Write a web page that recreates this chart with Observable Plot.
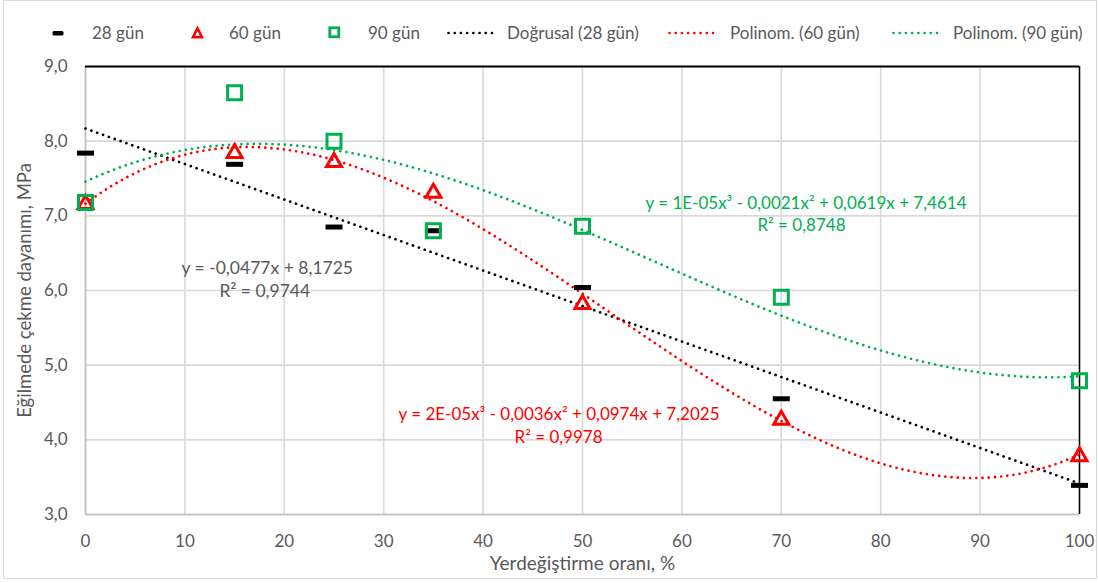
<!DOCTYPE html>
<html>
<head>
<meta charset="utf-8">
<script src="https://cdn.jsdelivr.net/npm/d3@7"></script>
<script src="https://cdn.jsdelivr.net/npm/@observablehq/plot@0.6"></script>
<style>
  body { margin: 0; background: #fff; font-family: Lato, "Open Sans", sans-serif; }
  #wrap { position: relative; width: 1098px; height: 583px; overflow: hidden; background: #fff; }
  #legend { position: relative; width: 1098px; height: 46px; }
  .lg-mark { position: absolute; top: 26px; height: 14px; display: flex; align-items: center; }
  .lg-text { position: absolute; top: 22px; height: 22px; line-height: 22px; font-size: 17px; color: #595959; white-space: nowrap; }
  #border { position: absolute; left: 3px; top: 0px; width: 1092px; height: 577px; border: 1.5px solid #d9d9d9; pointer-events: none; }
  svg { display: block; }
</style>
</head>
<body>
<div id="wrap">
  <div id="legend"></div>
  <div id="chart"></div>
  <div id="border"></div>
</div>
<script>
// ---------------- data ----------------
const xValues = [0, 15, 25, 35, 50, 70, 100];
const gun28 = [7.84, 7.69, 6.85, 6.80, 6.04, 4.55, 3.39];
const gun60 = [7.18, 7.86, 7.74, 7.33, 5.84, 4.29, 3.80];
const gun90 = [7.18, 8.65, 8.00, 6.80, 6.86, 5.91, 4.79];

const seriesNames = ["28 gün", "60 gün", "90 gün"];
const trendNames = ["Doğrusal (28 gün)", "Polinom. (60 gün)", "Polinom. (90 gün)"];
const colors = ["#000000", "#ff0000", "#00b050"];

const xTicks = [0, 10, 20, 30, 40, 50, 60, 70, 80, 90, 100];
const yTicks = [3, 4, 5, 6, 7, 8, 9];
const xDomain = [0, 100];
const yDomain = [3, 9];

const xTitle = "Yerdeğiştirme oranı, %";
const yTitle = "Eğilmede çekme dayanımı, MPa";

// trendline equation labels (anchored at start, in data units)
const eqLinear = [
  {x: 9.66, y: 6.30, text: "y = -0,0477x + 8,1725"},
  {x: 13.48, y: 5.99, text: "R² = 0,9744"}
];
const eq90 = [
  {x: 56.34, y: 7.17, text: "y = 1E-05x³ - 0,0021x² + 0,0619x + 7,4614"},
  {x: 67.6, y: 6.87, text: "R² = 0,8748"}
];
const eq60 = [
  {x: 31.49, y: 4.34, text: "y = 2E-05x³ - 0,0036x² + 0,0974x + 7,2025"},
  {x: 43.16, y: 4.03, text: "R² = 0,9978"}
];

// ---------------- least-squares trendlines ----------------
function polyfit(xs, ys, deg) {
  const s = 100; // scale x for conditioning
  const u = xs.map(v => v / s);
  const n = deg + 1;
  const A = Array.from({length: n}, (_, i) =>
    Array.from({length: n}, (_, j) => d3.sum(u, ui => ui ** (i + j))));
  const b = Array.from({length: n}, (_, i) => d3.sum(u.map((ui, k) => ui ** i * ys[k])));
  for (let c = 0; c < n; c++) {
    let p = c;
    for (let r = c + 1; r < n; r++) if (Math.abs(A[r][c]) > Math.abs(A[p][c])) p = r;
    [A[c], A[p]] = [A[p], A[c]]; [b[c], b[p]] = [b[p], b[c]];
    for (let r = c + 1; r < n; r++) {
      const f = A[r][c] / A[c][c];
      for (let k = c; k < n; k++) A[r][k] -= f * A[c][k];
      b[r] -= f * b[c];
    }
  }
  const coef = new Array(n).fill(0);
  for (let r = n - 1; r >= 0; r--) {
    let acc = b[r];
    for (let k = r + 1; k < n; k++) acc -= A[r][k] * coef[k];
    coef[r] = acc / A[r][r];
  }
  return x => coef.reduce((acc, c, i) => acc + c * (x / s) ** i, 0);
}

const fit28 = polyfit(xValues, gun28, 1);
const fit60 = polyfit(xValues, gun60, 3);
const fit90 = polyfit(xValues, gun90, 3);

const grid = d3.range(xDomain[0], xDomain[1] + 0.001, 0.5);
const curve = (f) => grid.map(x => ({x, y: f(x)}));
const pts = (ys) => xValues.map((x, i) => ({x, y: ys[i]}));

// ---------------- marker symbols ----------------
const dashSym = {draw(ctx) { ctx.rect(-8.5, -2.5, 17, 5); }};
const triSym = {draw(ctx) { ctx.moveTo(0, -7); ctx.lineTo(7.5, 6); ctx.lineTo(-7.5, 6); ctx.closePath(); }};
const sqSym = {draw(ctx) { ctx.rect(-7, -7, 14, 14); }};

const dotted = "0.01,6.2";
const dotStyle = {strokeWidth: 2.7, strokeDasharray: dotted, strokeLinecap: "round"};
const fmt = d => d.toFixed(1).replace(".", ",");

const chart = Plot.plot({
  width: 1098,
  height: 537,
  marginLeft: 85,
  marginRight: 19,
  marginTop: 20,
  marginBottom: 69,
  style: {fontFamily: "Lato, 'Open Sans', sans-serif", fontSize: "17px", color: "#595959", background: "transparent", overflow: "visible"},
  x: {domain: xDomain, axis: null},
  y: {domain: yDomain, axis: null},
  marks: [
    Plot.gridX(xTicks, {stroke: "#d9d9d9", strokeOpacity: 1, strokeWidth: 1.6}),
    Plot.gridY(yTicks, {stroke: "#d9d9d9", strokeOpacity: 1, strokeWidth: 1.6}),
    Plot.ruleX([xDomain[0]], {stroke: "#bfbfbf", strokeWidth: 1.6}),
    Plot.ruleY([yDomain[0]], {stroke: "#bfbfbf", strokeWidth: 1.6}),
    Plot.ruleY([yDomain[1]], {stroke: "#000", strokeWidth: 2}),
    Plot.ruleX([xDomain[1]], {stroke: "#000", strokeWidth: 1.5}),
    Plot.line(curve(fit28), {x: "x", y: "y", stroke: colors[0], ...dotStyle}),
    Plot.line(curve(fit60), {x: "x", y: "y", stroke: colors[1], ...dotStyle}),
    Plot.line(curve(fit90), {x: "x", y: "y", stroke: colors[2], ...dotStyle}),
    Plot.dot(pts(gun28), {x: "x", y: "y", symbol: dashSym, fill: colors[0], stroke: "none", r: 8}),
    Plot.dot(pts(gun60), {x: "x", y: "y", symbol: triSym, fill: "none", stroke: colors[1], strokeWidth: 3, r: 8}),
    Plot.dot(pts(gun90), {x: "x", y: "y", symbol: sqSym, fill: "none", stroke: colors[2], strokeWidth: 3, r: 8}),
    Plot.text(eqLinear, {x: "x", y: "y", text: "text", fill: "#595959", textAnchor: "start", lineAnchor: "middle", fontSize: 17.5}),
    Plot.text(eq90, {x: "x", y: "y", text: "text", fill: colors[2], textAnchor: "start", lineAnchor: "middle", fontSize: 17}),
    Plot.text(eq60, {x: "x", y: "y", text: "text", fill: colors[1], textAnchor: "start", lineAnchor: "middle", fontSize: 17}),
    Plot.axisX(xTicks, {tickSize: 0, tickPadding: 20, label: null, fontSize: 17}),
    Plot.axisY(yTicks, {tickSize: 0, tickPadding: 18, label: null, tickFormat: fmt, fontSize: 17}),
    Plot.text([xTitle], {frameAnchor: "bottom", dy: 49, textAnchor: "middle", lineAnchor: "middle", fontSize: 19, fill: "#595959"}),
    Plot.text([yTitle], {frameAnchor: "left", dx: -60, rotate: -90, textAnchor: "middle", lineAnchor: "middle", fontSize: 18.5, fill: "#595959"})
  ]
});
document.getElementById("chart").appendChild(chart);

// ---------------- legend ----------------
const legend = document.getElementById("legend");
const ns = "http://www.w3.org/2000/svg";
const legendItems = [
  {kind: "dash", label: seriesNames[0], color: colors[0], mark: 52, text: 92},
  {kind: "tri", label: seriesNames[1], color: colors[1], mark: 191, text: 229},
  {kind: "sq", label: seriesNames[2], color: colors[2], mark: 328, text: 368},
  {kind: "line", label: trendNames[0], color: colors[0], mark: 447, text: 507},
  {kind: "line", label: trendNames[1], color: colors[1], mark: 668, text: 730},
  {kind: "line", label: trendNames[2], color: colors[2], mark: 892, text: 953}
];
for (const it of legendItems) {
  const m = document.createElement("div");
  m.className = "lg-mark";
  m.style.left = it.mark + "px";
  const s = document.createElementNS(ns, "svg");
  const w = it.kind === "line" ? 52 : 13;
  s.setAttribute("width", w); s.setAttribute("height", 14);
  let el;
  if (it.kind === "dash") {
    el = document.createElementNS(ns, "rect");
    el.setAttribute("x", 0.5); el.setAttribute("y", 5); el.setAttribute("width", 11); el.setAttribute("height", 4.5);
    el.setAttribute("rx", 1.5);
    el.setAttribute("fill", it.color);
  } else if (it.kind === "tri") {
    el = document.createElementNS(ns, "path");
    el.setAttribute("d", "M6.5,2.3L11,11.2L2,11.2Z");
    el.setAttribute("fill", "none"); el.setAttribute("stroke", it.color); el.setAttribute("stroke-width", 2.6);
  } else if (it.kind === "sq") {
    el = document.createElementNS(ns, "rect");
    el.setAttribute("x", 1.8); el.setAttribute("y", 1.8); el.setAttribute("width", 9); el.setAttribute("height", 9);
    el.setAttribute("fill", "none"); el.setAttribute("stroke", it.color); el.setAttribute("stroke-width", 2.8);
  } else {
    el = document.createElementNS(ns, "line");
    el.setAttribute("x1", 1.5); el.setAttribute("x2", 51); el.setAttribute("y1", 7); el.setAttribute("y2", 7);
    el.setAttribute("stroke", it.color); el.setAttribute("stroke-width", 2.7);
    el.setAttribute("stroke-dasharray", dotted); el.setAttribute("stroke-linecap", "round");
  }
  s.appendChild(el);
  m.appendChild(s);
  legend.appendChild(m);
  const t = document.createElement("div");
  t.className = "lg-text";
  t.style.left = it.text + "px";
  t.textContent = it.label;
  legend.appendChild(t);
}
</script>
</body>
</html>
